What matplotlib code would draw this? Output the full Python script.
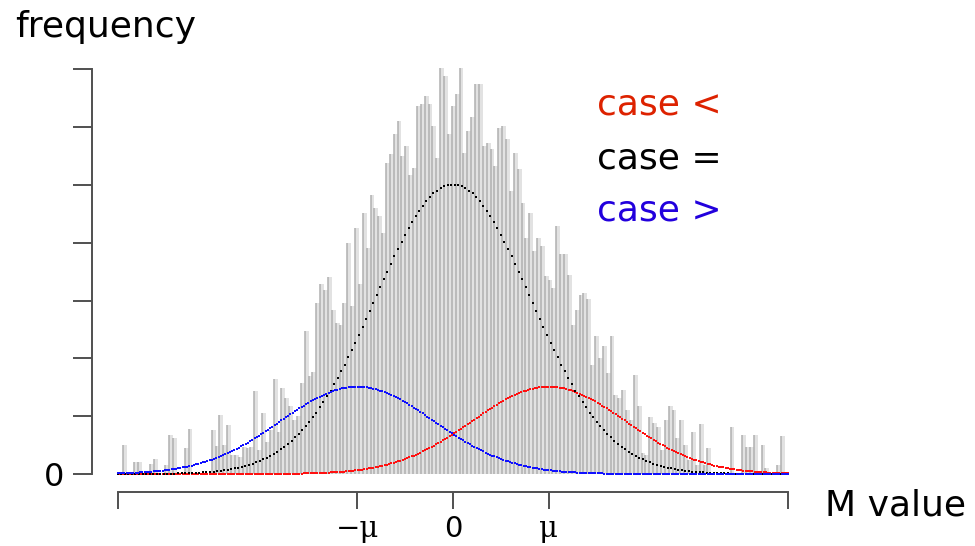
import numpy as np
import matplotlib
matplotlib.use("Agg")
import matplotlib.pyplot as plt

# ---- data (x in units of mu, y in tick units) ----
bin_start = -3.448
bin_width = 0.04042
bar_heights = [
    0.50, 0, 0, 0.20, 0.20, 0, 0, 0.17, 0.26, 0,
    0, 0.16, 0.68, 0.62, 0, 0, 0.45, 0.78, 0, 0,
    0, 0, 0, 0.76, 0.49, 1.02, 0.50, 0.85, 0.33, 0.33,
    0.30, 0.47, 0.45, 0.47, 1.43, 0.42, 1.06, 0.56, 0.76, 1.64,
    0.73, 1.49, 1.31, 1.17, 0.94, 1.00, 1.57, 2.47, 1.69, 1.77,
    2.96, 3.28, 3.19, 3.41, 2.84, 2.61, 2.58, 2.96, 4.00, 2.90,
    4.26, 3.29, 4.51, 3.91, 4.82, 4.61, 4.46, 4.17, 5.38, 5.53,
    5.88, 6.11, 5.50, 5.68, 5.18, 5.30, 6.37, 6.40, 6.54, 6.40,
    6.02, 5.47, 7.03, 6.89, 5.88, 6.37, 6.57, 7.03, 5.56, 5.94,
    6.17, 6.75, 6.75, 5.68, 5.73, 5.62, 5.33, 5.99, 6.02, 5.79,
    4.90, 5.56, 5.27, 4.69, 4.09, 4.52, 3.86, 4.09, 3.94, 3.42,
    3.36, 3.22, 4.29, 3.80, 3.80, 3.45, 2.58, 2.84, 3.10, 3.13,
    3.02, 1.89, 2.38, 2.01, 2.21, 1.75, 2.38, 1.37, 1.31, 1.46,
    1.11, 0.94, 1.72, 1.17, 0.36, 0.33, 0.99, 0.88, 0.82, 0.42,
    0.94, 1.17, 1.11, 0.62, 0.94, 0.50, 0.25, 0.73, 0.15, 0.86,
    0.15, 0.45, 0, 0, 0, 0, 0, 0.82, 0, 0,
    0.68, 0.47, 0.47, 0.68, 0, 0.50, 0.10, 0, 0, 0.16,
    0.65,
]

curve_names = ["case <", "case =", "case >"]
curve_means = [1.0, 0.0, -1.0]
curve_sds = [0.80, 0.81, 0.80]
curve_peaks = [1.51, 5.01, 1.51]
curve_colors = ["#ff1010", "#000000", "#1010ff"]
curve_points = [300, 190, 300]
label_colors = ["#dd2200", "#000000", "#2200dd"]

xtick_pos = [-3.5, -1.0, 0.0, 1.0, 3.5]
xtick_labels = ["", "\u2212\u03bc", "0", "\u03bc", ""]
ytick_pos = [0, 1, 2, 3, 4, 5, 6, 7]
ytick_labels = ["0", "", "", "", "", "", "", ""]

# ---- figure ----
W, H = 975, 546
fig = plt.figure(figsize=(W / 100, H / 100), dpi=100)
x0_px, x1_px = 117.7, 788.3
y0_px, ytop_px = 474.0, 63.7
ax = fig.add_axes([x0_px / W, (H - y0_px) / H, (x1_px - x0_px) / W, (y0_px - ytop_px) / H])
ax.set_xlim(-3.5, 3.5)
ax.set_ylim(0, 7.1)

heights = np.array(bar_heights)
lefts = bin_start + bin_width * np.arange(len(heights))
ax.bar(lefts, heights, width=bin_width, align="edge", color="#e2e2e2", linewidth=0, zorder=1)
ax.vlines(lefts, 0, heights, colors="#b0b0b0", linewidth=1.1, zorder=2)

for mu, sd, pk, col, n in zip(curve_means, curve_sds, curve_peaks, curve_colors, curve_points):
    xs = np.linspace(-3.5, 3.5, n)
    ys = pk * np.exp(-0.5 * ((xs - mu) / sd) ** 2)
    ax.plot(xs, ys, linestyle="none", marker="s", markersize=2.0, color=col,
            markeredgewidth=0, clip_on=False, zorder=3)

spine_col = "#505050"
for s in ["top", "right"]:
    ax.spines[s].set_visible(False)
ax.spines["left"].set_position(("outward", (x0_px - 91.5) * 0.72))
ax.spines["left"].set_bounds(0, 7)
ax.spines["bottom"].set_position(("outward", (491.7 - y0_px) * 0.72))
ax.spines["bottom"].set_bounds(-3.5, 3.5)
for s in ["left", "bottom"]:
    ax.spines[s].set_color(spine_col)
    ax.spines[s].set_linewidth(1.4)

ax.set_yticks(ytick_pos)
ax.set_yticklabels(ytick_labels)
ax.set_xticks(xtick_pos)
ax.set_xticklabels(xtick_labels)
ax.tick_params(axis="y", length=13.7, width=1.4, color=spine_col, pad=6, labelsize=23)
ax.tick_params(axis="x", length=12.5, width=1.4, color=spine_col, pad=4, labelsize=21)
for lab in ax.get_xticklabels():
    if "\u03bc" in lab.get_text():
        lab.set_family("DejaVu Serif")

fig.text(15 / W, 1 - 37 / H, "frequency", fontsize=26, ha="left", va="baseline")
fig.text(825 / W, 1 - 515 / H, "M value", fontsize=26, ha="left", va="baseline")
for i, (nm, col) in enumerate(zip(curve_names, label_colors)):
    fig.text(597 / W, 1 - (115 + 53.3 * i) / H, nm, fontsize=26, color=col,
             ha="left", va="baseline")

fig.savefig("out.png", dpi=100)
